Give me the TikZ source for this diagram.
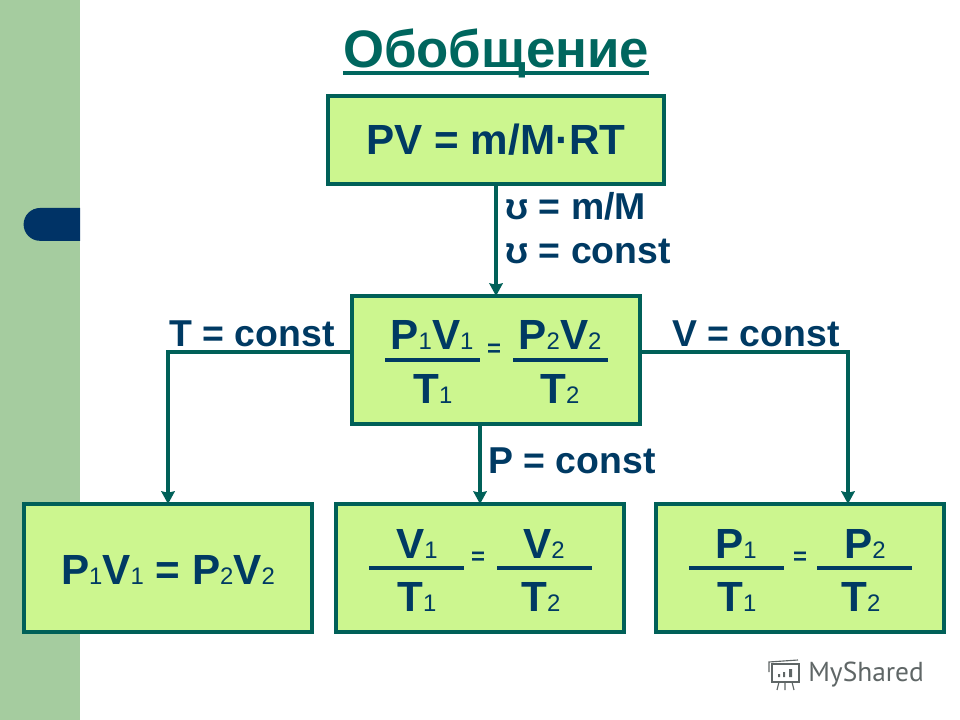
\documentclass[tikz,border=0pt]{standalone}
\usepackage{fontspec}
\setmainfont{Liberation Sans}
\newfontfamily\markfont{PT Sans}
\usetikzlibrary{positioning,calc,arrows.meta}
\definecolor{bandGreen}{HTML}{A5CC9F}
\definecolor{pillBlue}{HTML}{003366}
\definecolor{boxFill}{HTML}{CCF68F}
\definecolor{lawLine}{HTML}{006058}
\definecolor{lawText}{HTML}{003A63}
\definecolor{titleTeal}{HTML}{00665E}
\definecolor{markGrey}{HTML}{5F6666}
\newcommand{\low}[1]{{\fontsize{17}{20}\selectfont\mdseries #1}}
\tikzset{
  lawbox/.style={draw=lawLine, fill=boxFill, line width=2.85pt, inner sep=0pt, outer sep=0pt, anchor=north west},
  lawtxt/.style={text=lawText, inner sep=0pt, font=\fontsize{30}{34}\selectfont\bfseries},
  eqsign/.style={text=lawText, inner sep=0pt, font=\fontsize{17}{20}\selectfont\bfseries},
  condtxt/.style={text=lawText, inner sep=0pt, font=\fontsize{26.6}{30}\selectfont\bfseries},
  link/.style={draw=lawLine, line width=2.6pt},
  linkarrow/.style={link, -{Stealth[length=9pt,width=9.5pt,inset=1pt]}},
  ratiobar/.style={draw=lawText, line width=2.3pt},
}

\begin{document}
\begin{tikzpicture}[x=0.025cm, y=-0.025cm]
\useasboundingbox (0,0) rectangle (960,720);

% --- BACKGROUND BAND ---
\fill[bandGreen] (0,0) rectangle (80,720);
\fill[pillBlue] (80,208) -- (40,208) arc[start angle=90, end angle=270, radius=0.41cm] -- (80,241) -- cycle;

% --- TITLE ---
\node[inner sep=0pt, text=titleTeal, font=\fontsize{37.5}{42}\selectfont\bfseries] (title) at (496,53) {Обобщение};
\draw[titleTeal, line width=2.2pt] (title.west |- 0,73) -- (title.east |- 0,73);

% --- BOXES ---
\node[lawbox, minimum width=8.4cm, minimum height=2.2cm] (general) at (328,96) {};
\node[lawbox, minimum width=7.2cm, minimum height=3.2cm] (unified) at (352,296) {};
\node[lawbox, minimum width=7.2cm, minimum height=3.2cm] (boyle) at (24,504) {};
\node[lawbox, minimum width=7.2cm, minimum height=3.2cm] (gaylussac) at (336,504) {};
\node[lawbox, minimum width=7.2cm, minimum height=3.2cm] (charles) at (656,504) {};

% --- BOX TEXTS ---
\node[lawtxt] (generaltxt) at (general.center) {PV = m/M·RT};
\node[lawtxt] (boyletxt) at (168,570) {P\low{1}V\low{1} = P\low{2}V\low{2}};

% unified law
\node[lawtxt] (uA) at (432,335) {P\low{1}V\low{1}};
\node[lawtxt] (uB) at (433,389) {T\low{1}};
\node[eqsign] (uE) at (494,350) {=};
\node[lawtxt] (uC) at (560,335) {P\low{2}V\low{2}};
\node[lawtxt] (uD) at (560,389) {T\low{2}};

% constant pressure
\node[lawtxt] (gA) at (417,544) {V\low{1}};
\node[lawtxt] (gB) at (417,597) {T\low{1}};
\node[eqsign] (gE) at (478,558) {=};
\node[lawtxt] (gC) at (544,544) {V\low{2}};
\node[lawtxt] (gD) at (541,597) {T\low{2}};

% constant volume
\node[lawtxt] (cA) at (736,544) {P\low{1}};
\node[lawtxt] (cB) at (737,597) {T\low{1}};
\node[eqsign] (cE) at (800,558) {=};
\node[lawtxt] (cC) at (865,544) {P\low{2}};
\node[lawtxt] (cD) at (861,597) {T\low{2}};

% --- FRACTION BARS ---
\foreach \xa/\xb/\yb in {385/480/360, 513/608/360, 369/464/568, 497/592/568, 689/784/568, 817/912/568} {
  \draw[ratiobar] (\xa,\yb) -- (\xb,\yb);
}

% --- CONDITIONS ---
\node[condtxt, anchor=west] (condA) at (505,206) {ʊ = m/M};
\node[condtxt, anchor=west] (condB) at (505,251) {ʊ = const};
\node[condtxt, anchor=east] (condT) at (335,334) {T = const};
\node[condtxt, anchor=west] (condV) at (672,334) {V = const};
\node[condtxt, anchor=west] (condP) at (488,461) {P = const};

% --- CONNECTORS ---
\coordinate (turnT) at (168,352);
\coordinate (turnV) at (848,352);
\draw[linkarrow] (general.south -| unified.north) -- (unified.north);
\draw[linkarrow] (unified.west |- turnT) -- (turnT) -- (boyle.north);
\draw[linkarrow] (unified.east |- turnV) -- (turnV) -- (turnV |- charles.north);
\draw[linkarrow] (unified.south -| gaylussac.north) -- (gaylussac.north);

% --- WATERMARK ---
\node[inner sep=0pt, anchor=west, text=markGrey, font=\fontsize{19.5}{22}\selectfont\markfont] (mark) at (808,675) {MyShared};
\draw[markGrey, line width=0.8pt] (772,664) rectangle (799,682);
\draw[markGrey, line width=0.8pt] (769,672) -- (769,662) -- (798,660);
\draw[markGrey, line width=0.8pt] (779,682) -- (777,690) (785,682) -- (785,690) (792,682) -- (794,690);
\fill[markGrey] (778,674) rectangle (780,677) (783,672) rectangle (785,677) (789,669) rectangle (792,677);
\end{tikzpicture}
\end{document}
